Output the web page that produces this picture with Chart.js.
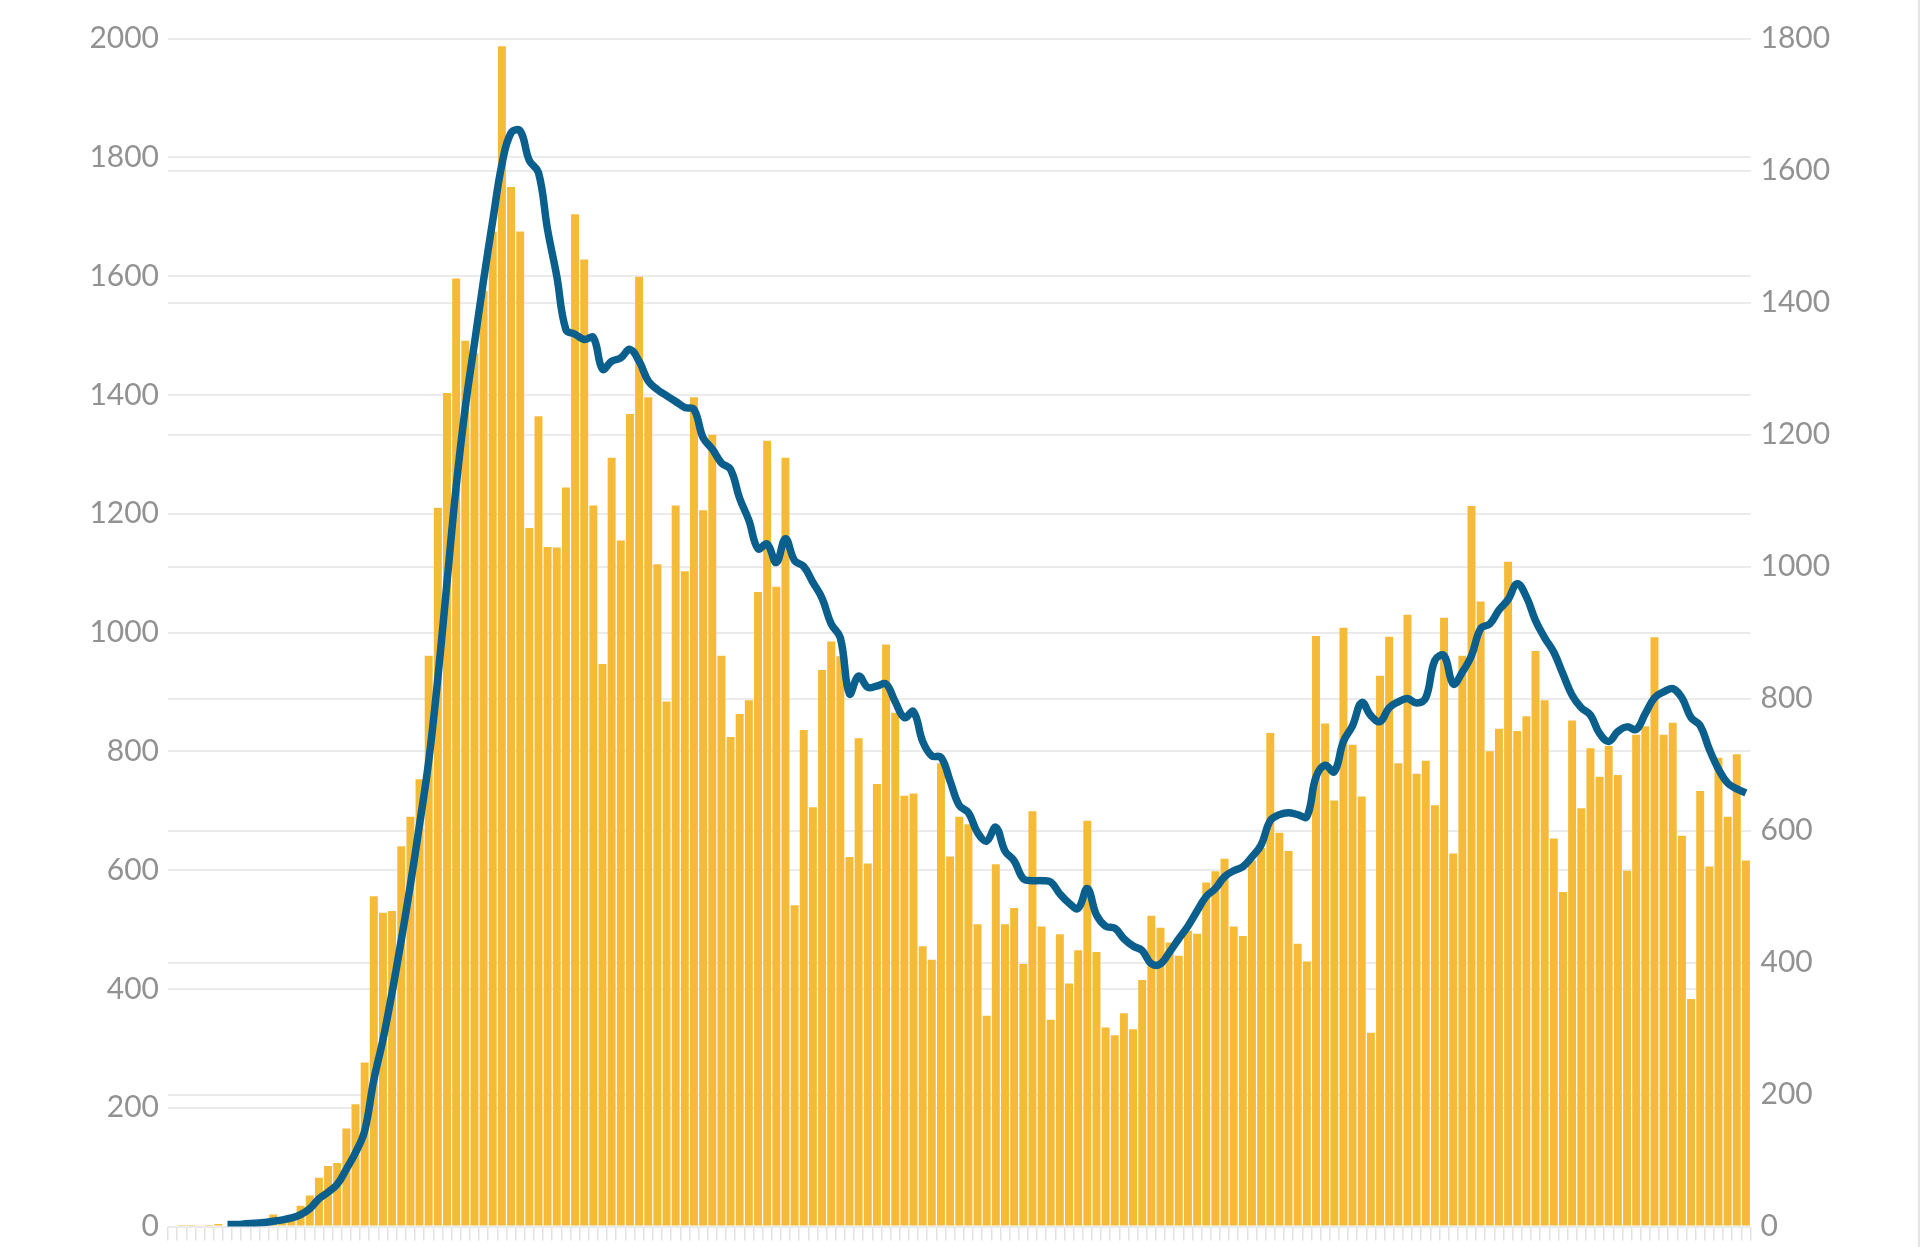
<!DOCTYPE html>
<html>
<head>
<meta charset="utf-8">
<title>Daily cases</title>
<script src="https://cdn.jsdelivr.net/npm/chart.js@4.4.1/dist/chart.umd.min.js"></script>
<style>
  html, body { margin: 0; padding: 0; background: #fff; }
  #wrap { position: relative; width: 1918px; height: 1247px; border-right: 2px solid #e4e4e4; }
</style>
</head>
<body>
<div id="wrap"><canvas id="chart"></canvas></div>
<script>
// daily counts (bars, left axis)
const dailyCases = [
  0, 1, 1, 2, 1, 4, 0, 1, 1, 2,
  3, 20, 8, 12, 35, 52, 82, 102, 107, 165,
  206, 276, 556, 528, 531, 640, 690, 753, 961, 1210,
  1403, 1596, 1491, 1470, 1575, 1675, 1987, 1750, 1675, 1176,
  1364, 1144, 1143, 1244, 1704, 1628, 1214, 947, 1294, 1155,
  1368, 1599, 1396, 1115, 884, 1214, 1103, 1396, 1206, 1333,
  961, 824, 863, 886, 1068, 1323, 1077, 1294, 541, 836,
  706, 937, 985, 960, 622, 822, 611, 745, 980, 865,
  725, 729, 472, 449, 780, 623, 690, 677, 509, 355,
  610, 509, 536, 442, 699, 505, 348, 492, 409, 465,
  683, 462, 335, 322, 359, 332, 415, 523, 503, 478,
  456, 498, 493, 579, 598, 619, 505, 489, 616, 637,
  831, 663, 632, 476, 446, 994, 847, 717, 1008, 811,
  724, 326, 927, 993, 780, 1030, 762, 784, 709, 1025,
  628, 961, 1213, 1052, 800, 838, 1119, 834, 859, 969,
  886, 653, 563, 852, 704, 805, 757, 809, 760, 599,
  828, 842, 992, 828, 848, 658, 383, 733, 606, 789,
  690, 795, 616
];

// rolling average (line, right axis) - starts on day 7
const rollingAvg = [
  null, null, null, null, null, null, 3, 3, 4, 5,
  6, 8, 10, 13, 18, 27, 42, 52, 64, 87,
  112, 145, 222, 283, 355, 434, 518, 609, 705, 831,
  976, 1121, 1241, 1338, 1434, 1524, 1609, 1657, 1660, 1615,
  1597, 1510, 1440, 1359, 1352, 1344, 1347, 1299, 1311, 1316,
  1329, 1311, 1281, 1268, 1259, 1250, 1241, 1238, 1195, 1178,
  1157, 1147, 1103, 1070, 1027, 1034, 1006, 1042, 1009, 1000,
  976, 952, 913, 892, 807, 834, 817, 819, 822, 795,
  771, 780, 735, 713, 711, 675, 638, 627, 597, 584,
  605, 569, 554, 527, 524, 524, 522, 504, 490, 482,
  512, 472, 455, 452, 436, 425, 418, 398, 398, 416,
  436, 455, 478, 500, 512, 530, 539, 545, 560, 578,
  615, 624, 627, 624, 621, 681, 699, 689, 735, 759,
  794, 774, 765, 786, 795, 800, 793, 801, 858, 865,
  822, 840, 865, 906, 913, 934, 950, 974, 954, 918,
  892, 870, 837, 805, 786, 775, 747, 735, 750, 757,
  753, 777, 801, 810, 815, 801, 771, 759, 723, 693,
  672, 663, 657
];

// one category per day
const days = dailyCases.map((v, i) => 'Day ' + (i + 1));

// axis ticks
const leftTicks = [0, 200, 400, 600, 800, 1000, 1200, 1400, 1600, 1800, 2000];
const rightTicks = [0, 200, 400, 600, 800, 1000, 1200, 1400, 1600, 1800];

// small lineHeight so the end labels don't push the plot area in
const tickFont = { family: 'Lato', size: 30, lineHeight: 0.7 };
const tickColor = '#929292';
const gridColor = '#ebebeb';
const plainNumber = value => String(value); // no thousands separator

new Chart(document.getElementById('chart'), {
  data: {
    labels: days,
    datasets: [
      {
        type: 'line',
        data: rollingAvg,
        yAxisID: 'yRight',
        borderColor: '#0b5f8d',
        borderWidth: 7.5,
        pointRadius: 0,
        tension: 0.4,
        fill: false,
        order: 0
      },
      {
        type: 'bar',
        data: dailyCases,
        yAxisID: 'yLeft',
        backgroundColor: '#f5bb38',
        barPercentage: 0.87,
        categoryPercentage: 1,
        order: 1
      }
    ]
  },
  options: {
    responsive: true,
    maintainAspectRatio: false,
    animation: false,
    layout: { padding: { top: 38.5, bottom: 6.5, left: 0, right: 0 } },
    plugins: { legend: { display: false }, tooltip: { enabled: false } },
    scales: {
      x: {
        offset: true,
        border: { display: false },
        grid: { offset: true, drawOnChartArea: false, drawTicks: true, tickLength: 14, color: '#e2e2e2', lineWidth: 1.5 },
        ticks: { display: false }
      },
      yLeft: {
        position: 'left',
        min: leftTicks[0],
        max: leftTicks[leftTicks.length - 1],
        border: { display: false },
        grid: { color: gridColor, lineWidth: 2, drawTicks: false },
        ticks: { stepSize: leftTicks[1] - leftTicks[0], color: tickColor, font: tickFont, padding: 9, callback: plainNumber },
        afterFit: function (scale) { scale.width = 168; }
      },
      yRight: {
        position: 'right',
        min: rightTicks[0],
        max: rightTicks[rightTicks.length - 1],
        border: { display: false },
        grid: { color: gridColor, lineWidth: 2, drawTicks: false },
        ticks: { stepSize: rightTicks[1] - rightTicks[0], color: tickColor, font: tickFont, padding: 10, callback: plainNumber },
        afterFit: function (scale) { scale.width = 167.5; }
      }
    }
  }
});
</script>
</body>
</html>
